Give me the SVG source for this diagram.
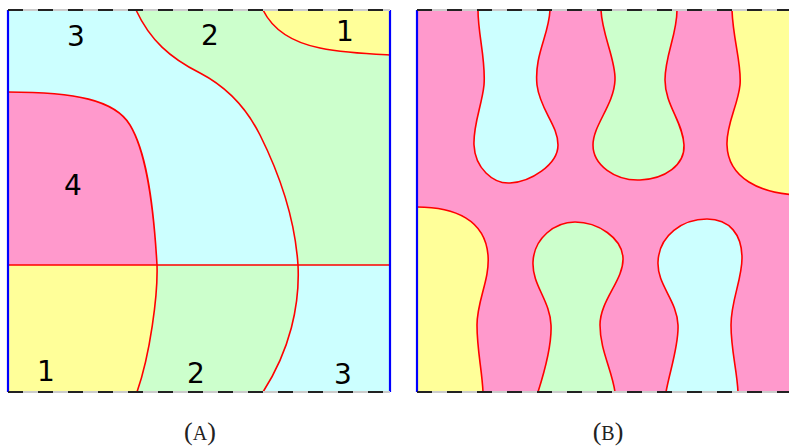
<svg xmlns="http://www.w3.org/2000/svg" width="789" height="448" viewBox="0 0 789 448">
<style>
.cy{fill:#ccffff}.gr{fill:#ccffcc}.ye{fill:#ffff99}.pk{fill:#ff99cc}
.bd{fill:none;stroke:#ff0000;stroke-width:1.6}
.bl{stroke:#0000ff;stroke-width:2.2}
.gl{stroke:#cccccc;stroke-width:2}
.dl{stroke:#222222;stroke-width:2;stroke-dasharray:15 15}
.num{font-family:"DejaVu Sans",Verdana,sans-serif;font-size:28px;fill:#000;text-anchor:middle}
.cap{font-family:"Liberation Serif","Times New Roman",serif;font-size:26px;fill:#222;text-anchor:middle}
</style>
<rect width="789" height="448" fill="#ffffff"/>
<g id="panelA">
  <rect class="cy" x="8" y="10" width="382" height="255"/>
  <path class="gr" d="M136,10 C150,40 170,58 200,73 C225,86 245,105 260,135 C280,175 295,220 298,265 L390,265 L390,10 Z"/>
  <path class="ye" d="M263,10 C272,28 290,42 320,48 C345,53 370,54 390,55 L390,10 Z"/>
  <path class="pk" d="M8,92 C75,92 115,100 130,125 C145,150 153,195 157,265 L8,265 Z"/>
  <rect class="cy" x="8" y="265" width="382" height="127"/>
  <path class="gr" d="M8,265 L298,265 C300,305 290,350 263,392 L8,392 Z"/>
  <path class="ye" d="M8,265 L157,265 C158,295 150,355 137,392 L8,392 Z"/>
  <g id="bordersA">
    <path class="bd" d="M8,92 C75,92 115,100 130,125 C145,150 153,195 157,265 C158,295 150,355 137,392"/>
    <path class="bd" d="M136,10 C150,40 170,58 200,73 C225,86 245,105 260,135 C280,175 295,220 298,265 C300,305 290,350 263,392"/>
    <path class="bd" d="M263,10 C272,28 290,42 320,48 C345,53 370,54 390,55"/>
    <path class="bd" d="M8,265 L390,265"/>
  </g>
  <line class="bl" x1="8" y1="10" x2="8" y2="392"/>
  <line class="bl" x1="390" y1="10" x2="390" y2="392"/>
  <line class="gl" x1="8" y1="10" x2="390" y2="10"/>
  <line class="dl" x1="8" y1="10" x2="390" y2="10"/>
  <line class="gl" x1="8" y1="392" x2="390" y2="392"/>
  <line class="dl" x1="8" y1="392" x2="390" y2="392"/>
  <text class="num" x="76" y="46">3</text>
  <text class="num" x="210" y="45">2</text>
  <text class="num" x="345" y="41">1</text>
  <text class="num" x="73" y="195">4</text>
  <text class="num" x="46" y="381">1</text>
  <text class="num" x="196" y="383">2</text>
  <text class="num" x="343" y="384">3</text>
</g>
<g id="panelB">
  <rect class="pk" x="417" y="10" width="382" height="382"/>
  <path class="cy" d="M478,10 C478,35 486,60 484,85 C482,105 473,125 474,145 C475,168 493,184 510,183 C530,182 558,165 558,145 C558,125 540,110 537,85 C534,55 549,35 550,10 Z"/>
  <path class="gr" d="M601,10 C602,35 616,60 615,80 C614,105 593,125 593,145 C593,165 615,181 640,180 C665,179 685,165 684,145 C683,122 665,105 665,80 C665,55 677,35 677,10 Z"/>
  <path class="ye" d="M732,10 C733,40 742,65 740,85 C738,105 726,125 727,145 C728,178 760,194 800,195 L800,10 Z"/>
  <path class="ye" d="M417,207 C455,207 485,220 488,255 C490,280 477,300 477,325 C477,350 482,370 483,392 L417,392 Z"/>
  <path class="gr" d="M538,392 C545,370 552,345 551,325 C550,300 532,285 533,262 C534,238 555,222 575,222 C598,222 622,238 623,258 C624,280 600,300 600,325 C600,350 612,370 615,392 Z"/>
  <path class="cy" d="M666,392 C670,370 679,345 678,325 C677,300 657,285 658,262 C659,235 683,219 707,219 C730,219 742,235 742,258 C742,280 731,300 731,325 C731,350 737,370 738,392 Z"/>
  <g id="bordersB">
    <path class="bd" d="M478,10 C478,35 486,60 484,85 C482,105 473,125 474,145 C475,168 493,184 510,183 C530,182 558,165 558,145 C558,125 540,110 537,85 C534,55 549,35 550,10"/>
    <path class="bd" d="M601,10 C602,35 616,60 615,80 C614,105 593,125 593,145 C593,165 615,181 640,180 C665,179 685,165 684,145 C683,122 665,105 665,80 C665,55 677,35 677,10"/>
    <path class="bd" d="M732,10 C733,40 742,65 740,85 C738,105 726,125 727,145 C728,178 760,194 800,195"/>
    <path class="bd" d="M417,207 C455,207 485,220 488,255 C490,280 477,300 477,325 C477,350 482,370 483,392"/>
    <path class="bd" d="M538,392 C545,370 552,345 551,325 C550,300 532,285 533,262 C534,238 555,222 575,222 C598,222 622,238 623,258 C624,280 600,300 600,325 C600,350 612,370 615,392"/>
    <path class="bd" d="M666,392 C670,370 679,345 678,325 C677,300 657,285 658,262 C659,235 683,219 707,219 C730,219 742,235 742,258 C742,280 731,300 731,325 C731,350 737,370 738,392"/>
  </g>
  <line class="bl" x1="417" y1="10" x2="417" y2="392"/>
  <line class="gl" x1="417" y1="10" x2="799" y2="10"/>
  <line class="dl" x1="417" y1="10" x2="799" y2="10"/>
  <line class="gl" x1="417" y1="392" x2="799" y2="392"/>
  <line class="dl" x1="417" y1="392" x2="799" y2="392"/>
</g>
<g id="captions">
  <text class="cap" x="200" y="440">(<tspan font-size="20">A</tspan>)</text>
  <text class="cap" x="608" y="440">(<tspan font-size="20">B</tspan>)</text>
</g>
</svg>
